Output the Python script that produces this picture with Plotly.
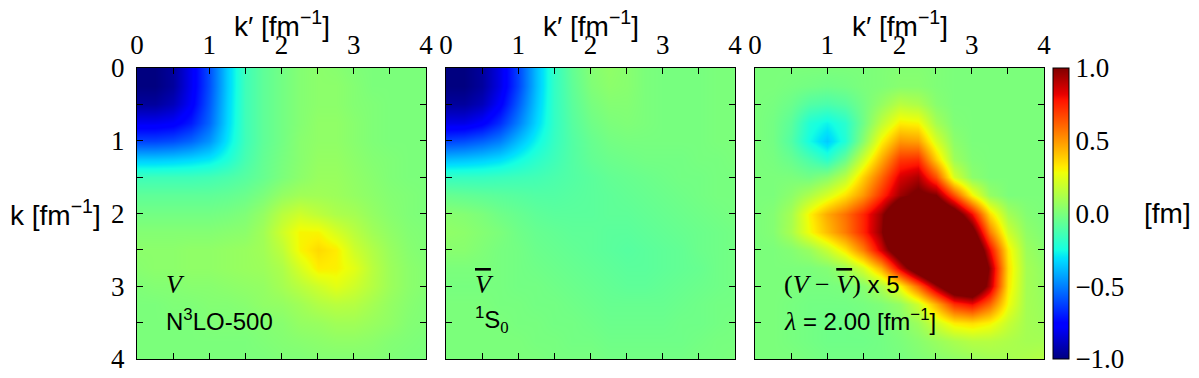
import plotly.graph_objects as go

# momentum grid [fm^-1]
k = [0.0, 0.25, 0.5, 0.75, 1.0, 1.25, 1.5, 1.75, 2.0, 2.25, 2.5, 2.75, 3.0, 3.25, 3.5, 3.75, 4.0]

# initial potential V (N3LO-500, 1S0), rows = k, cols = k'
V_bare = [
    [-1.0, -1.0, -0.95, -0.8, -0.6, -0.35, -0.15, -0.07, -0.02, 0.02, 0.04, 0.03, 0.01, 0.0, 0.0, 0.0, 0.0],
    [-1.0, -1.0, -0.95, -0.8, -0.6, -0.35, -0.15, -0.07, -0.02, 0.02, 0.04, 0.04, 0.02, 0.0, 0.0, 0.0, 0.0],
    [-0.95, -0.95, -0.9, -0.78, -0.58, -0.34, -0.15, -0.07, -0.02, 0.02, 0.04, 0.04, 0.02, 0.01, 0.0, 0.0, 0.0],
    [-0.8, -0.8, -0.78, -0.7, -0.55, -0.33, -0.15, -0.07, -0.02, 0.02, 0.05, 0.05, 0.03, 0.01, 0.0, 0.0, 0.0],
    [-0.62, -0.62, -0.6, -0.55, -0.46, -0.3, -0.15, -0.07, -0.02, 0.03, 0.05, 0.05, 0.03, 0.01, 0.0, 0.0, 0.0],
    [-0.36, -0.36, -0.35, -0.33, -0.3, -0.23, -0.13, -0.06, -0.01, 0.03, 0.06, 0.06, 0.04, 0.02, 0.01, 0.0, 0.0],
    [-0.15, -0.15, -0.15, -0.15, -0.14, -0.12, -0.09, -0.05, 0.0, 0.04, 0.07, 0.07, 0.05, 0.03, 0.01, 0.0, 0.0],
    [-0.07, -0.07, -0.07, -0.07, -0.07, -0.06, -0.04, 0.0, 0.06, 0.09, 0.09, 0.08, 0.06, 0.04, 0.02, 0.01, 0.0],
    [-0.02, -0.02, -0.02, -0.02, -0.02, -0.01, 0.01, 0.06, 0.15, 0.2, 0.16, 0.12, 0.1, 0.06, 0.03, 0.01, 0.0],
    [0.02, 0.02, 0.02, 0.02, 0.02, 0.03, 0.04, 0.09, 0.2, 0.3, 0.3, 0.22, 0.15, 0.09, 0.05, 0.02, 0.01],
    [0.04, 0.04, 0.04, 0.05, 0.05, 0.06, 0.07, 0.09, 0.16, 0.3, 0.36, 0.32, 0.2, 0.13, 0.07, 0.03, 0.01],
    [0.03, 0.04, 0.04, 0.05, 0.05, 0.06, 0.07, 0.08, 0.12, 0.22, 0.32, 0.31, 0.25, 0.15, 0.08, 0.04, 0.02],
    [0.01, 0.02, 0.02, 0.03, 0.03, 0.04, 0.05, 0.06, 0.1, 0.15, 0.2, 0.25, 0.2, 0.14, 0.08, 0.04, 0.02],
    [0.0, 0.0, 0.01, 0.01, 0.02, 0.02, 0.03, 0.05, 0.06, 0.09, 0.13, 0.15, 0.14, 0.1, 0.06, 0.03, 0.01],
    [0.0, 0.0, 0.0, 0.0, 0.01, 0.01, 0.01, 0.02, 0.03, 0.06, 0.07, 0.09, 0.09, 0.07, 0.05, 0.02, 0.01],
    [0.0, 0.0, 0.0, 0.0, 0.0, 0.0, 0.0, 0.01, 0.02, 0.03, 0.04, 0.05, 0.05, 0.04, 0.02, 0.01, 0.0],
    [0.0, 0.0, 0.0, 0.0, 0.0, 0.0, 0.0, 0.0, 0.01, 0.01, 0.02, 0.02, 0.02, 0.02, 0.01, 0.0, 0.0],
]

# evolved potential V-bar at lambda = 2.00 fm^-1
V_srg = [
    [-1.05, -1.0, -0.95, -0.82, -0.62, -0.38, -0.18, -0.06, 0.02, 0.05, 0.03, 0.0, -0.01, -0.01, -0.01, 0.0, 0.0],
    [-1.0, -1.0, -0.95, -0.82, -0.62, -0.38, -0.18, -0.07, 0.01, 0.04, 0.03, 0.0, -0.01, -0.01, -0.01, 0.0, 0.0],
    [-0.95, -0.95, -0.9, -0.77, -0.57, -0.36, -0.18, -0.08, -0.01, 0.02, 0.02, 0.0, -0.01, -0.01, -0.01, 0.0, 0.0],
    [-0.82, -0.82, -0.77, -0.66, -0.5, -0.33, -0.18, -0.09, -0.03, 0.0, 0.01, 0.0, -0.01, -0.01, -0.01, 0.0, 0.0],
    [-0.62, -0.6, -0.56, -0.5, -0.38, -0.27, -0.17, -0.1, -0.05, -0.02, -0.01, -0.01, -0.01, -0.01, -0.01, 0.0, 0.0],
    [-0.38, -0.37, -0.35, -0.32, -0.26, -0.2, -0.15, -0.1, -0.06, -0.04, -0.03, -0.02, -0.02, -0.02, -0.01, -0.01, 0.0],
    [-0.17, -0.17, -0.17, -0.16, -0.15, -0.14, -0.12, -0.1, -0.08, -0.06, -0.05, -0.04, -0.03, -0.02, -0.02, -0.01, -0.01],
    [-0.05, -0.06, -0.07, -0.08, -0.09, -0.1, -0.1, -0.09, -0.08, -0.07, -0.06, -0.05, -0.04, -0.03, -0.02, -0.01, -0.01],
    [0.03, 0.02, 0.0, -0.03, -0.05, -0.07, -0.08, -0.08, -0.08, -0.07, -0.07, -0.06, -0.05, -0.04, -0.03, -0.02, -0.01],
    [0.05, 0.04, 0.02, 0.0, -0.03, -0.05, -0.06, -0.07, -0.07, -0.08, -0.08, -0.07, -0.06, -0.05, -0.04, -0.03, -0.02],
    [0.03, 0.03, 0.01, -0.01, -0.02, -0.04, -0.05, -0.06, -0.07, -0.08, -0.09, -0.08, -0.07, -0.06, -0.04, -0.03, -0.02],
    [0.0, 0.0, 0.0, -0.01, -0.02, -0.03, -0.04, -0.05, -0.06, -0.07, -0.08, -0.08, -0.07, -0.06, -0.05, -0.03, -0.02],
    [-0.01, -0.01, -0.01, -0.01, -0.02, -0.02, -0.03, -0.04, -0.05, -0.06, -0.07, -0.07, -0.06, -0.05, -0.04, -0.03, -0.02],
    [0.0, 0.0, 0.0, -0.01, -0.01, -0.02, -0.02, -0.03, -0.04, -0.05, -0.05, -0.05, -0.05, -0.04, -0.03, -0.02, -0.02],
    [0.0, 0.0, 0.0, 0.0, -0.01, -0.01, -0.02, -0.02, -0.03, -0.04, -0.04, -0.04, -0.04, -0.03, -0.03, -0.02, -0.01],
    [0.0, 0.0, 0.0, 0.0, 0.0, -0.01, -0.01, -0.02, -0.02, -0.03, -0.03, -0.03, -0.03, -0.03, -0.02, -0.01, -0.01],
    [0.0, 0.0, 0.0, 0.0, 0.0, 0.0, -0.01, -0.01, -0.01, -0.02, -0.02, -0.02, -0.02, -0.02, -0.01, -0.01, 0.0],
]

# (V - V-bar) x 5
V_diff = [
    [0.0, 0.0, 0.0, 0.0, 0.0, 0.0, 0.0, 0.01, 0.02, 0.02, 0.01, 0.0, 0.0, 0.0, 0.0, 0.0, 0.0],
    [0.0, 0.0, -0.01, -0.02, -0.03, -0.02, 0.0, 0.01, 0.03, 0.03, 0.01, 0.0, 0.0, 0.0, 0.0, 0.0, 0.0],
    [0.0, -0.01, -0.04, -0.1, -0.12, -0.09, -0.02, 0.06, 0.15, 0.12, 0.03, 0.0, 0.0, 0.0, 0.0, 0.0, 0.0],
    [0.0, -0.02, -0.08, -0.22, -0.27, -0.2, -0.03, 0.16, 0.32, 0.3, 0.1, 0.01, 0.0, 0.0, 0.0, 0.0, 0.0],
    [0.0, -0.02, -0.1, -0.25, -0.35, -0.22, 0.03, 0.3, 0.5, 0.48, 0.22, 0.04, 0.0, 0.0, 0.0, 0.0, 0.0],
    [0.0, -0.01, -0.05, -0.12, -0.2, -0.05, 0.2, 0.45, 0.7, 0.72, 0.38, 0.08, 0.01, 0.0, 0.0, 0.0, 0.0],
    [0.0, 0.0, 0.0, -0.02, 0.03, 0.15, 0.38, 0.6, 0.85, 0.92, 0.65, 0.22, 0.04, 0.0, 0.0, 0.0, 0.0],
    [0.0, 0.0, 0.04, 0.12, 0.22, 0.34, 0.5, 0.72, 0.95, 1.05, 1.0, 0.65, 0.3, 0.06, 0.0, 0.0, 0.0],
    [0.0, 0.02, 0.1, 0.3, 0.46, 0.58, 0.74, 0.95, 1.3, 1.4, 1.35, 1.15, 0.8, 0.35, 0.1, 0.02, 0.0],
    [0.0, 0.02, 0.11, 0.28, 0.42, 0.56, 0.74, 0.97, 1.5, 1.7, 1.7, 1.5, 1.1, 0.55, 0.2, 0.05, 0.01],
    [0.0, 0.0, 0.02, 0.07, 0.18, 0.33, 0.55, 0.85, 1.2, 1.6, 1.8, 1.7, 1.35, 0.8, 0.32, 0.08, 0.03],
    [0.0, 0.0, 0.0, 0.0, 0.02, 0.08, 0.22, 0.45, 0.85, 1.2, 1.5, 1.6, 1.5, 0.95, 0.35, 0.1, 0.05],
    [0.0, 0.0, 0.0, -0.01, -0.01, 0.0, 0.03, 0.12, 0.3, 0.6, 0.95, 1.25, 1.3, 0.9, 0.33, 0.1, 0.06],
    [0.0, 0.0, -0.01, -0.02, -0.02, -0.02, -0.01, 0.01, 0.06, 0.2, 0.45, 0.72, 0.8, 0.6, 0.28, 0.1, 0.07],
    [0.0, 0.0, -0.01, -0.02, -0.03, -0.03, -0.02, -0.01, 0.02, 0.08, 0.2, 0.32, 0.35, 0.3, 0.18, 0.1, 0.08],
    [0.0, 0.0, -0.01, -0.02, -0.03, -0.03, -0.03, -0.02, 0.0, 0.03, 0.07, 0.11, 0.14, 0.14, 0.12, 0.1, 0.1],
    [0.0, 0.0, 0.0, -0.01, -0.02, -0.02, -0.02, -0.02, -0.01, 0.01, 0.03, 0.05, 0.07, 0.09, 0.1, 0.12, 0.14],
]

axis_ticks = [0, 1, 2, 3, 4]
cbar_ticks = [-1.0, -0.5, 0.0, 0.5, 1.0]
cbar_labels = ["−1.0", "−0.5", "0.0", "0.5", "1.0"]

# matplotlib-style jet
jet = [
    [0.0, "rgb(0,0,128)"], [0.11, "rgb(0,0,255)"], [0.125, "rgb(0,0,255)"],
    [0.34, "rgb(0,219,255)"], [0.35, "rgb(0,229,247)"], [0.375, "rgb(21,255,226)"],
    [0.64, "rgb(238,255,8)"], [0.65, "rgb(247,245,0)"], [0.66, "rgb(255,236,0)"],
    [0.89, "rgb(255,19,0)"], [0.91, "rgb(232,0,0)"], [1.0, "rgb(128,0,0)"],
]

SERIF = "Liberation Serif"
SANS = "Liberation Sans"
# the page body keeps its default 8px margin, so the figure is 16px smaller than the window
OFF = 8
W, H = 1199 - 2 * OFF, 378 - 2 * OFF


def px(x):
    return (x - OFF) / W


def py(y):
    return (H - (y - OFF)) / H


fig = go.Figure()
for i, z in enumerate([V_bare, V_srg, V_diff]):
    s = "" if i == 0 else str(i + 1)
    fig.add_trace(go.Heatmap(x=k, y=k, z=z, coloraxis="coloraxis", zsmooth="best",
                             xaxis="x" + s, yaxis="y" + s, hoverinfo="skip"))

panels = [(137, 426), (446, 735), (755, 1044)]
top, bottom = 68, 359
ydom = [py(bottom), py(top)]

layout = dict(
    width=W, height=H, margin=dict(l=0, r=0, t=0, b=0, autoexpand=False),
    paper_bgcolor="white", plot_bgcolor="white", showlegend=False,
    coloraxis=dict(
        cmin=-1, cmax=1, colorscale=jet,
        colorbar=dict(
            x=px(1053), xanchor="left", y=ydom[0], yanchor="bottom",
            len=bottom - top, lenmode="pixels", thickness=16, thicknessmode="pixels",
            xpad=0, ypad=0, outlinewidth=1, outlinecolor="black",
            tickvals=cbar_ticks, ticktext=cbar_labels, ticks="",
            ticklabeloverflow="allow",
            tickfont=dict(family=SERIF, size=27, color="black"),
        ),
    ),
)

for i, (x0, x1) in enumerate(panels):
    s = "" if i == 0 else str(i + 1)
    common = dict(
        showline=True, linecolor="black", linewidth=1, mirror="ticks", automargin=False,
        ticks="inside", ticklen=6, tickwidth=1, tickcolor="black",
        tickvals=axis_ticks, showgrid=False, zeroline=False, ticklabeloverflow="allow",
        minor=dict(dtick=0.5, tick0=0, ticks="inside", ticklen=6, tickcolor="black", showgrid=False),
        tickfont=dict(family=SERIF, size=27, color="black"),
    )
    layout["xaxis" + s] = dict(common, domain=[px(x0), px(x1)], range=[0, 4], side="top",
                               anchor="y" + s, ticklabelstandoff=2)
    layout["yaxis" + s] = dict(common, domain=ydom, range=[4, 0], anchor="x" + s,
                               showticklabels=(i == 0), ticklabelstandoff=6)

fig.update_layout(**layout)

# axis titles
for x0, x1 in panels:
    fig.add_annotation(x=px((x0 + x1) / 2), y=py(24), xref="paper", yref="paper",
                       xanchor="center", yanchor="middle",
                       text="k′ [fm<sup>−1</sup>]", showarrow=False,
                       font=dict(family=SANS, size=28, color="black"))
fig.add_annotation(x=px(103), y=py(213), xref="paper", yref="paper", xanchor="right",
                   yanchor="middle", text="k [fm<sup>−1</sup>]", showarrow=False,
                   font=dict(family=SANS, size=28, color="black"))
fig.add_annotation(x=px(1142), y=py(213), xref="paper", yref="paper", xanchor="left",
                   yanchor="middle", text="[fm]", showarrow=False,
                   font=dict(family=SANS, size=28, color="black"))

vbar = '<span style="text-decoration:overline">V</span>'
math = f"font-family:{SERIF};font-size:26px"
labels = [
    ("", f'<span style="{math}"><i>V</i></span>', "N<sup>3</sup>LO-500"),
    ("2", f'<span style="{math}"><i>{vbar}</i></span>',
     f'<sup>1</sup>S<sub><span style="font-family:{SERIF}">0</span></sub>'),
    ("3", f'<span style="{math}">(<i>V</i>\u00a0−\u00a0<i>{vbar}</i>)</span> x 5',
     f'<span style="{math}"><i>λ</i></span> = 2.00 [fm<sup>−1</sup>]'),
]
for s, t1, t2 in labels:
    fig.add_annotation(x=0.37, y=2.98, xref="x" + s, yref="y" + s, xanchor="left",
                       yanchor="middle", text=t1, showarrow=False,
                       font=dict(family=SANS, size=24, color="black"))
    fig.add_annotation(x=0.37, y=3.47, xref="x" + s, yref="y" + s, xanchor="left",
                       yanchor="middle", text=t2, showarrow=False,
                       font=dict(family=SANS, size=24, color="black"))

fig.write_html("out.html")
